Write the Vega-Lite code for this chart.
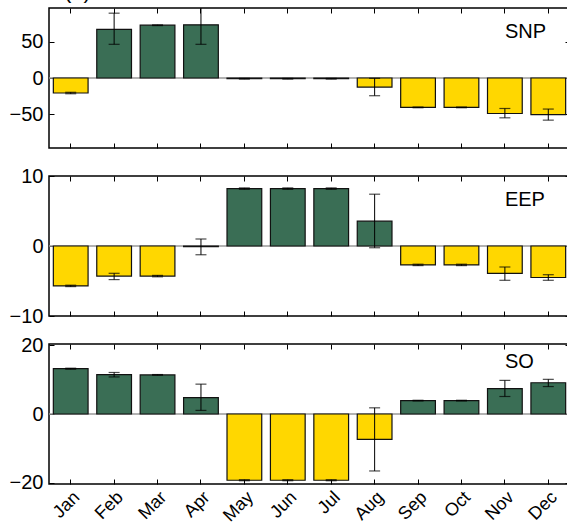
{
  "$schema": "https://vega.github.io/schema/vega-lite/v6.json",
  "padding": {"left": 8, "top": -22, "right": 0, "bottom": 0},
  "spacing": 28,
  "bounds": "flush",
  "config": {
    "font": "Liberation Sans",
    "view": {"stroke": "#000", "strokeWidth": 1.5},
    "axis": {"domain": false, "grid": false, "tickColor": "#000", "tickSize": -5, "tickWidth": 1, "labelFontSize": 20, "labelColor": "#000", "title": null, "labelPadding": 11},
    "title": {"fontWeight": "normal", "fontSize": 22, "color": "#000"}
  },
  "datasets": {
    "snp": [
      {"month": "Jan", "value": -20.6, "lo": -21.6, "hi": -19.6},
      {"month": "Feb", "value": 66.8, "lo": 46.2, "hi": 88.9},
      {"month": "Mar", "value": 72.4, "lo": 71.9, "hi": 72.9},
      {"month": "Apr", "value": 72.9, "lo": 46.2, "hi": 99.6},
      {"month": "May", "value": -1, "lo": -1.5, "hi": -0.5},
      {"month": "Jun", "value": -1, "lo": -1.5, "hi": -0.5},
      {"month": "Jul", "value": -1, "lo": -1.5, "hi": -0.5},
      {"month": "Aug", "value": -12.4, "lo": -24.3, "hi": -0.5},
      {"month": "Sep", "value": -40.3, "lo": -40.8, "hi": -39.8},
      {"month": "Oct", "value": -40.3, "lo": -40.8, "hi": -39.8},
      {"month": "Nov", "value": -48.7, "lo": -54.6, "hi": -41.8},
      {"month": "Dec", "value": -50.1, "lo": -57.8, "hi": -42.6}
    ],
    "eep": [
      {"month": "Jan", "value": -5.7, "lo": -5.8, "hi": -5.6},
      {"month": "Feb", "value": -4.3, "lo": -4.8, "hi": -3.9},
      {"month": "Mar", "value": -4.3, "lo": -4.4, "hi": -4.2},
      {"month": "Apr", "value": -0.1, "lo": -1.25, "hi": 1.0},
      {"month": "May", "value": 8.2, "lo": 8.1, "hi": 8.3},
      {"month": "Jun", "value": 8.2, "lo": 8.1, "hi": 8.3},
      {"month": "Jul", "value": 8.2, "lo": 8.1, "hi": 8.3},
      {"month": "Aug", "value": 3.55, "lo": -0.25, "hi": 7.4},
      {"month": "Sep", "value": -2.7, "lo": -2.8, "hi": -2.6},
      {"month": "Oct", "value": -2.7, "lo": -2.8, "hi": -2.6},
      {"month": "Nov", "value": -3.9, "lo": -4.9, "hi": -3.0},
      {"month": "Dec", "value": -4.5, "lo": -4.9, "hi": -4.1}
    ],
    "so": [
      {"month": "Jan", "value": 13.2, "lo": 13.05, "hi": 13.35},
      {"month": "Feb", "value": 11.5, "lo": 10.8, "hi": 12.1},
      {"month": "Mar", "value": 11.4, "lo": 11.3, "hi": 11.5},
      {"month": "Apr", "value": 4.8, "lo": 1.05, "hi": 8.7},
      {"month": "May", "value": -19.3, "lo": -19.45, "hi": -19.15},
      {"month": "Jun", "value": -19.3, "lo": -19.45, "hi": -19.15},
      {"month": "Jul", "value": -19.3, "lo": -19.45, "hi": -19.15},
      {"month": "Aug", "value": -7.4, "lo": -16.6, "hi": 1.8},
      {"month": "Sep", "value": 3.9, "lo": 3.8, "hi": 4.0},
      {"month": "Oct", "value": 3.9, "lo": 3.8, "hi": 4.0},
      {"month": "Nov", "value": 7.4, "lo": 5.1, "hi": 9.8},
      {"month": "Dec", "value": 9.1, "lo": 8.0, "hi": 10.1}
    ]
  },
  "vconcat": [
    {
      "width": 521, "height": 140,
      "title": {"text": "(a)", "anchor": "start", "frame": "group", "offset": 5, "dx": 15},
      "resolve": {"axis": {"x": "independent", "y": "independent"}},
      "layer": [
        {"data": {"values": [{}]}, "mark": {"type": "rule", "color": "#999", "strokeWidth": 1.5},
         "encoding": {"y": {"datum": 0, "type": "quantitative", "scale": {"domain": [-96, 96], "nice": false}, "axis": null}}},
        {"data": {"name": "snp"}, "mark": {"type": "bar", "stroke": "#111", "strokeWidth": 1.2},
         "encoding": {
           "x": {"field": "month", "type": "nominal", "sort": ["Jan","Feb","Mar","Apr","May","Jun","Jul","Aug","Sep","Oct","Nov","Dec"], "scale": {"paddingInner": 0.2, "paddingOuter": 0.1}, "axis": {"orient": "bottom", "labels": false}},
           "y": {"field": "value", "type": "quantitative", "scale": {"domain": [-96, 96], "nice": false}, "axis": {"orient": "left", "values": [-50, 0, 50]}},
           "color": {"condition": {"test": "datum.value < 0", "value": "#FFD700"}, "value": "#3A6E55"}
         }},
        {"data": {"name": "snp"}, "mark": {"type": "rule", "color": "#000", "strokeWidth": 1, "clip": true},
         "encoding": {
           "x": {"field": "month", "type": "nominal", "sort": ["Jan","Feb","Mar","Apr","May","Jun","Jul","Aug","Sep","Oct","Nov","Dec"], "axis": {"orient": "top", "labels": false}},
           "y": {"field": "lo", "type": "quantitative", "scale": {"domain": [-96, 96], "nice": false}, "axis": {"orient": "right", "labels": false, "values": [-50, 0, 50]}},
           "y2": {"field": "hi"}
         }},
        {"data": {"name": "snp"}, "mark": {"type": "tick", "color": "#000", "orient": "horizontal", "size": 11, "thickness": 1.2, "clip": true},
         "encoding": {
           "x": {"field": "month", "type": "nominal", "sort": ["Jan","Feb","Mar","Apr","May","Jun","Jul","Aug","Sep","Oct","Nov","Dec"], "axis": null},
           "y": {"field": "lo", "type": "quantitative", "scale": {"domain": [-96, 96], "nice": false}, "axis": null}
         }},
        {"data": {"name": "snp"}, "mark": {"type": "tick", "color": "#000", "orient": "horizontal", "size": 11, "thickness": 1.2, "clip": true},
         "encoding": {
           "x": {"field": "month", "type": "nominal", "sort": ["Jan","Feb","Mar","Apr","May","Jun","Jul","Aug","Sep","Oct","Nov","Dec"], "axis": null},
           "y": {"field": "hi", "type": "quantitative", "scale": {"domain": [-96, 96], "nice": false}, "axis": null}
         }},
        {"data": {"values": [{"month": "Nov", "v": 54.5, "label": "SNP"}]}, "mark": {"type": "text", "align": "left", "baseline": "alphabetic", "fontSize": 20, "color": "#000"},
         "encoding": {
           "x": {"field": "month", "type": "nominal", "sort": ["Jan","Feb","Mar","Apr","May","Jun","Jul","Aug","Sep","Oct","Nov","Dec"], "axis": null},
           "y": {"field": "v", "type": "quantitative", "scale": {"domain": [-96, 96], "nice": false}, "axis": null},
           "text": {"field": "label"}
         }}
      ]
    },
    {
      "width": 521, "height": 140,
      "resolve": {"axis": {"x": "independent", "y": "independent"}},
      "layer": [
        {"data": {"values": [{}]}, "mark": {"type": "rule", "color": "#999", "strokeWidth": 1.5},
         "encoding": {"y": {"datum": 0, "type": "quantitative", "scale": {"domain": [-10, 10], "nice": false}, "axis": null}}},
        {"data": {"name": "eep"}, "mark": {"type": "bar", "stroke": "#111", "strokeWidth": 1.2},
         "encoding": {
           "x": {"field": "month", "type": "nominal", "sort": ["Jan","Feb","Mar","Apr","May","Jun","Jul","Aug","Sep","Oct","Nov","Dec"], "scale": {"paddingInner": 0.2, "paddingOuter": 0.1}, "axis": {"orient": "bottom", "labels": false}},
           "y": {"field": "value", "type": "quantitative", "scale": {"domain": [-10, 10], "nice": false}, "axis": {"orient": "left", "values": [-10, 0, 10]}},
           "color": {"condition": {"test": "datum.value < 0", "value": "#FFD700"}, "value": "#3A6E55"}
         }},
        {"data": {"name": "eep"}, "mark": {"type": "rule", "color": "#000", "strokeWidth": 1, "clip": true},
         "encoding": {
           "x": {"field": "month", "type": "nominal", "sort": ["Jan","Feb","Mar","Apr","May","Jun","Jul","Aug","Sep","Oct","Nov","Dec"], "axis": {"orient": "top", "labels": false}},
           "y": {"field": "lo", "type": "quantitative", "scale": {"domain": [-10, 10], "nice": false}, "axis": {"orient": "right", "labels": false, "values": [-10, 0, 10]}},
           "y2": {"field": "hi"}
         }},
        {"data": {"name": "eep"}, "mark": {"type": "tick", "color": "#000", "orient": "horizontal", "size": 11, "thickness": 1.2, "clip": true},
         "encoding": {
           "x": {"field": "month", "type": "nominal", "sort": ["Jan","Feb","Mar","Apr","May","Jun","Jul","Aug","Sep","Oct","Nov","Dec"], "axis": null},
           "y": {"field": "lo", "type": "quantitative", "scale": {"domain": [-10, 10], "nice": false}, "axis": null}
         }},
        {"data": {"name": "eep"}, "mark": {"type": "tick", "color": "#000", "orient": "horizontal", "size": 11, "thickness": 1.2, "clip": true},
         "encoding": {
           "x": {"field": "month", "type": "nominal", "sort": ["Jan","Feb","Mar","Apr","May","Jun","Jul","Aug","Sep","Oct","Nov","Dec"], "axis": null},
           "y": {"field": "hi", "type": "quantitative", "scale": {"domain": [-10, 10], "nice": false}, "axis": null}
         }},
        {"data": {"values": [{"month": "Nov", "v": 5.76, "label": "EEP"}]}, "mark": {"type": "text", "align": "left", "baseline": "alphabetic", "fontSize": 20, "color": "#000"},
         "encoding": {
           "x": {"field": "month", "type": "nominal", "sort": ["Jan","Feb","Mar","Apr","May","Jun","Jul","Aug","Sep","Oct","Nov","Dec"], "axis": null},
           "y": {"field": "v", "type": "quantitative", "scale": {"domain": [-10, 10], "nice": false}, "axis": null},
           "text": {"field": "label"}
         }}
      ]
    },
    {
      "width": 521, "height": 140,
      "resolve": {"axis": {"x": "independent", "y": "independent"}},
      "layer": [
        {"data": {"values": [{}]}, "mark": {"type": "rule", "color": "#999", "strokeWidth": 1.5},
         "encoding": {"y": {"datum": 0, "type": "quantitative", "scale": {"domain": [-20.4, 20.4], "nice": false}, "axis": null}}},
        {"data": {"name": "so"}, "mark": {"type": "bar", "stroke": "#111", "strokeWidth": 1.2},
         "encoding": {
           "x": {"field": "month", "type": "nominal", "sort": ["Jan","Feb","Mar","Apr","May","Jun","Jul","Aug","Sep","Oct","Nov","Dec"], "scale": {"paddingInner": 0.2, "paddingOuter": 0.1}, "axis": {"orient": "bottom", "labelAngle": -45, "labelFontSize": 18, "labelPadding": 9}},
           "y": {"field": "value", "type": "quantitative", "scale": {"domain": [-20.4, 20.4], "nice": false}, "axis": {"orient": "left", "values": [-20, 0, 20]}},
           "color": {"condition": {"test": "datum.value < 0", "value": "#FFD700"}, "value": "#3A6E55"}
         }},
        {"data": {"name": "so"}, "mark": {"type": "rule", "color": "#000", "strokeWidth": 1, "clip": true},
         "encoding": {
           "x": {"field": "month", "type": "nominal", "sort": ["Jan","Feb","Mar","Apr","May","Jun","Jul","Aug","Sep","Oct","Nov","Dec"], "axis": {"orient": "top", "labels": false}},
           "y": {"field": "lo", "type": "quantitative", "scale": {"domain": [-20.4, 20.4], "nice": false}, "axis": {"orient": "right", "labels": false, "values": [-20, 0, 20]}},
           "y2": {"field": "hi"}
         }},
        {"data": {"name": "so"}, "mark": {"type": "tick", "color": "#000", "orient": "horizontal", "size": 11, "thickness": 1.2, "clip": true},
         "encoding": {
           "x": {"field": "month", "type": "nominal", "sort": ["Jan","Feb","Mar","Apr","May","Jun","Jul","Aug","Sep","Oct","Nov","Dec"], "axis": null},
           "y": {"field": "lo", "type": "quantitative", "scale": {"domain": [-20.4, 20.4], "nice": false}, "axis": null}
         }},
        {"data": {"name": "so"}, "mark": {"type": "tick", "color": "#000", "orient": "horizontal", "size": 11, "thickness": 1.2, "clip": true},
         "encoding": {
           "x": {"field": "month", "type": "nominal", "sort": ["Jan","Feb","Mar","Apr","May","Jun","Jul","Aug","Sep","Oct","Nov","Dec"], "axis": null},
           "y": {"field": "hi", "type": "quantitative", "scale": {"domain": [-20.4, 20.4], "nice": false}, "axis": null}
         }},
        {"data": {"values": [{"month": "Nov", "v": 13.3, "label": "SO"}]}, "mark": {"type": "text", "align": "left", "baseline": "alphabetic", "fontSize": 20, "color": "#000"},
         "encoding": {
           "x": {"field": "month", "type": "nominal", "sort": ["Jan","Feb","Mar","Apr","May","Jun","Jul","Aug","Sep","Oct","Nov","Dec"], "axis": null},
           "y": {"field": "v", "type": "quantitative", "scale": {"domain": [-20.4, 20.4], "nice": false}, "axis": null},
           "text": {"field": "label"}
         }}
      ]
    }
  ]
}
